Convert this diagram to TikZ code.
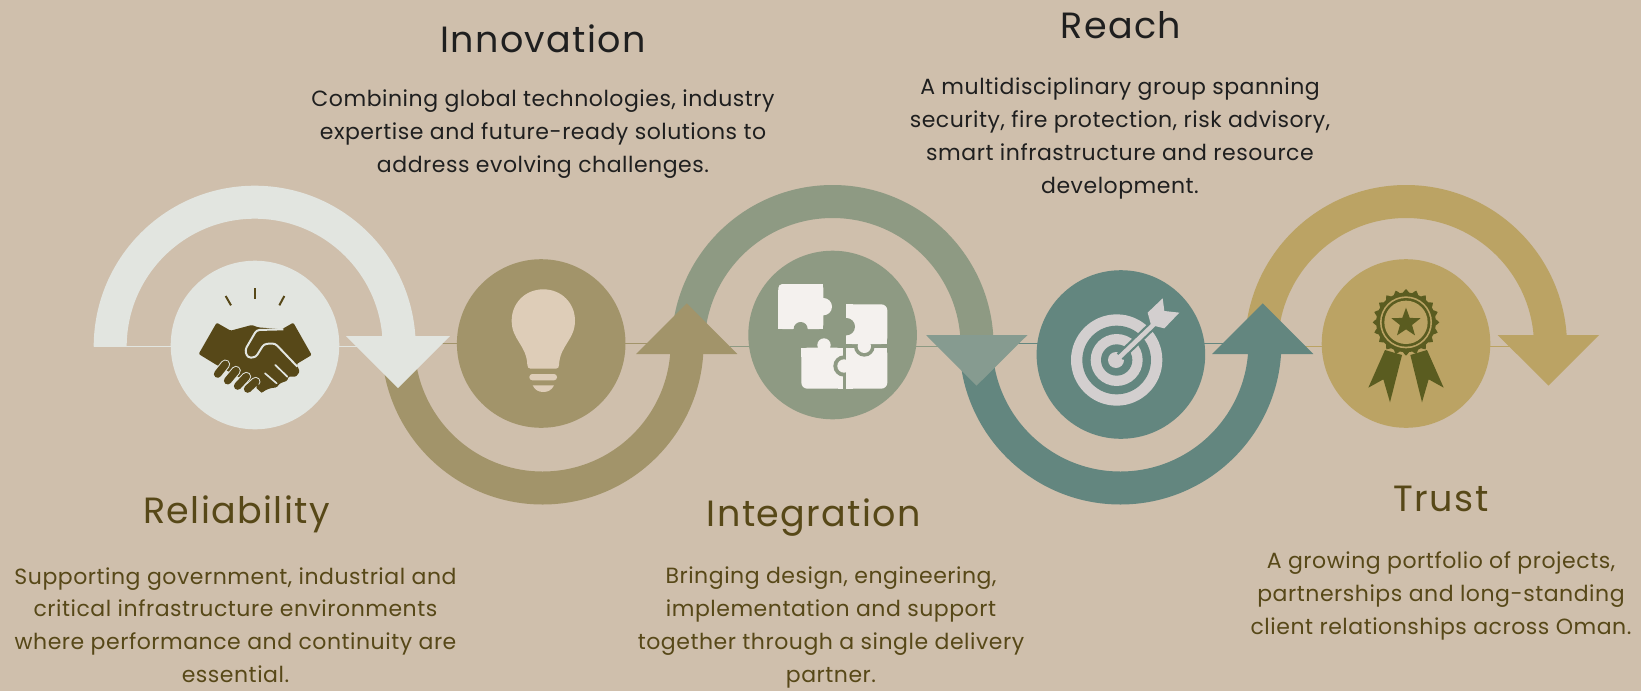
\documentclass[tikz,border=0pt]{standalone}
\usepackage{fontspec}
\setmainfont{Poppins}
\newfontfamily\titlefont[LetterSpace=3.8]{Poppins}
\newfontfamily\bodyfont[LetterSpace=2.4]{Poppins}
\usetikzlibrary{shapes.geometric}
\definecolor{bg}{HTML}{CFBFAC}
\definecolor{cone}{HTML}{E2E5E0}
\definecolor{ctwo}{HTML}{A2946A}
\definecolor{cthree}{HTML}{8E9A83}
\definecolor{cthreeb}{HTML}{869B90}
\definecolor{cfour}{HTML}{63867F}
\definecolor{cfive}{HTML}{BBA364}
\definecolor{brownink}{HTML}{574818}
\definecolor{darkink}{HTML}{1F1F1F}
\definecolor{bulbc}{HTML}{DECDB8}
\definecolor{puzc}{HTML}{F4F1EE}
\definecolor{targc}{HTML}{D3CFCF}
\definecolor{rosc}{HTML}{5A5C20}
\newcommand{\ringtop}[3]{\fill[#3] ({#1-161},{-#2}) arc[start angle=180,end angle=0,radius=161] -- ({#1+128},{-#2}) arc[start angle=0,end angle=180,radius=128] -- cycle;}
\newcommand{\ringbot}[3]{\fill[#3] ({#1-161},{-#2}) arc[start angle=180,end angle=360,radius=161] -- ({#1+128},{-#2}) arc[start angle=360,end angle=180,radius=128] -- cycle;}
\tikzset{
  disc/.style={circle,inner sep=0pt,minimum size=168.6pt,draw=none},
  titletext/.style={font=\titlefont\fontsize{36.5}{40}\selectfont,anchor=center},
  bodytext/.style={font=\bodyfont\fontsize{22}{32.8}\selectfont,align=center,anchor=center},
}
\begin{document}
\begin{tikzpicture}[x=1pt,y=1pt]
\useasboundingbox (0,-691) rectangle (1641,0);
\fill[bg] (0,-691) rectangle (1641,0);
% thin lines
\draw[cone,line width=1pt] (94,-346.7) -- (400,-346.7);
\draw[ctwo,line width=1pt] (430,-343.3) -- (650,-343.3);
\draw[cthree,line width=1pt] (730,-346.3) -- (960,-346.3);
\draw[cfour,line width=1pt] (1000,-343.3) -- (1230,-343.3);
\draw[cfive,line width=1pt] (1300,-346) -- (1520,-346);
% discs
\node[disc,fill=cone] (d1) at (255,-345) {};
\node[disc,fill=ctwo] (d2) at (541.2,-343.5) {};
\node[disc,fill=cthree] (d3) at (832.6,-335) {};
\node[disc,fill=cfour] (d4) at (1120.9,-354.5) {};
\node[disc,fill=cfive] (d5) at (1406,-343.5) {};
% rings
\ringbot{542.6}{343.5}{ctwo}
\ringtop{254.7}{346.7}{cone}
\ringtop{832.6}{346}{cthree}
\ringbot{1120.4}{343.5}{cfour}
\ringtop{1406}{346}{cfive}
% arrowheads
\fill[cone] (346,-336) -- (450,-336) -- (398,-388) -- cycle;
\fill[ctwo] (636,-354) -- (737.3,-354) -- (686.7,-303.3) -- cycle;
\fill[cthreeb] (926,-335) -- (1027.5,-335) -- (976.5,-385.7) -- cycle;
\fill[cfour] (1212,-354) -- (1313.3,-354) -- (1262.7,-303.3) -- cycle;
\fill[cfive] (1497.7,-335) -- (1599,-335) -- (1548.5,-385.7) -- cycle;
% handshake
\begin{scope}[shift={(80pt,-170pt)},x=0.33333pt,y=-0.33333pt]
\fill[brownink,rounded corners=1.2pt] (410,458) -- (452,482) -- (515,465) -- (535,472) -- (605,478) -- (640,458) -- (695,555) -- (650,582) -- (659,605) -- (648,620) -- (625,620) -- (622,632) -- (600,640) -- (590,652) -- (570,655) -- (558,660) -- (545,668) -- (528,650) -- (405,582) -- (356,552) -- cycle;
\draw[cone,line width=2pt,line join=round,rounded corners=3pt] (610,478) -- (530,480) -- (495,540) -- (503,563) -- (527,562) -- (552,522) -- (585,520) -- (652,590);
\draw[cone,line width=1.7pt,line cap=round] (586,585) -- (622,620);
\draw[cone,line width=1.7pt,line cap=round] (555,610) -- (590,640);
\foreach \a/\b/\c/\d in {503/657/527/635,473/648/499/620,443/632/468/602,413/612/436/583}{
  \draw[cone,line width=9.6pt,line cap=round] (\a,\b) -- (\c,\d);
}
\fill[brownink] (530,640) -- (558,658) -- (545,668) -- (530,655) -- cycle;
\foreach \a/\b/\c/\d in {503/657/527/635,473/648/499/620,443/632/468/602,413/612/436/583}{
  \draw[brownink,line width=7.6pt,line cap=round] (\a,\b) -- (\c,\d);
}
\draw[brownink,line width=2pt] (525,354) -- (525,387);
\draw[brownink,line width=2pt] (437,378) -- (453,406);
\draw[brownink,line width=2pt] (613,378) -- (598,406);
\end{scope}
% bulb and puzzle
\begin{scope}[shift={(420pt,-230pt)},x=0.33333pt,y=-0.33333pt]
\fill[bulbc] (370,178) .. controls (315,178) and (275,220) .. (275,272) .. controls (275,330) and (320,345) .. (322,405) .. controls (322,412) and (326,416) .. (332,416) -- (408,416) .. controls (414,416) and (417,412) .. (417,405) .. controls (420,345) and (465,330) .. (465,272) .. controls (465,220) and (425,178) .. (370,178) -- cycle;
\fill[bulbc,rounded corners=3pt] (328,432) rectangle (411,451);
\fill[bulbc] (338,466) -- (402,466) .. controls (395,480) and (385,486) .. (370,486) .. controls (355,486) and (345,480) .. (338,466) -- cycle;
% piece 1
\fill[puzc,rounded corners=4pt] (1075,162) -- (1210,162) -- (1210,297) -- (1075,297) -- cycle;
\fill[puzc] (1075,180) rectangle (1100,297);
\fill[puzc] (1190,162) rectangle (1210,297);
\fill[puzc] (1210,230) circle[radius=26];
\fill[cthree] (1142,297) circle[radius=21];
\fill[cthree] (1120,297) rectangle (1165,303);
% piece 3
\fill[puzc,rounded corners=6pt] (1144,353) -- (1268,353) -- (1268,476) -- (1144,476) -- cycle;
\fill[puzc] (1144,353) rectangle (1165,380);
\fill[puzc] (1255,353) rectangle (1268,476);
\fill[puzc] (1212,345) circle[radius=20];
\fill[cthree] (1272,408) circle[radius=32];
% piece 4
\fill[puzc,rounded corners=6pt] (1279,353) -- (1402,353) -- (1402,476) -- (1279,476) -- cycle;
\fill[puzc] (1279,353) rectangle (1300,476);
\fill[puzc] (1380,353) rectangle (1402,380);
\fill[cthree] (1268,353) rectangle (1279,476);
\fill[puzc] (1272,408) circle[radius=20];
\fill[puzc] (1272,392) rectangle (1285,424);
\fill[cthree] (1333,349) circle[radius=31];
\fill[cthree] (1279,342) rectangle (1402,353);
% piece 2
\fill[puzc,rounded corners=6pt] (1278,223) -- (1402,223) -- (1402,342) -- (1278,342) -- cycle;
\fill[puzc] (1278,223) rectangle (1300,342);
\fill[puzc] (1300,320) rectangle (1402,342);
\fill[puzc] (1333,349) circle[radius=20];
\fill[cthree] (1279,290) circle[radius=26];
\end{scope}
% target
\begin{scope}[shift={(970pt,-240pt)},x=0.33333pt,y=-0.33333pt]
\fill[targc] (440,360) circle[radius=137];
\fill[cfour] (440,360) circle[radius=103];
\fill[targc] (440,360) circle[radius=78];
\fill[cfour] (440,360) circle[radius=47];
\fill[targc] (438,360) circle[radius=24];
\draw[cfour,line width=9pt] (450,350) -- (565,240);
\draw[targc,line width=4.6pt] (448,352) -- (560,245);
\fill[targc] (533,218) -- (578,175) -- (583,213) -- (628,218) -- (583,265) -- (543,255) -- cycle;
\end{scope}
% rosette
\begin{scope}[shift={(1250pt,-240pt)},x=0.33333pt,y=-0.33333pt]
\fill[rosc] (405,330) -- (355,443) -- (400,418) -- (420,487) -- (456,345) -- cycle;
\fill[rosc] (531,330) -- (581,443) -- (536,418) -- (516,487) -- (481,345) -- cycle;
\fill[rosc] plot[smooth cycle,samples at={0,6,...,354},variable=\t] ({468+(93+7*cos(20*\t))*sin(\t)},{247-(93+7*cos(20*\t))*cos(\t)});
\fill[cfive] (468,247) circle[radius=78];
\fill[rosc] (468,247) circle[radius=73];
\fill[cfive] (468,247) circle[radius=65];
\fill[rosc] plot[samples at={0,1,...,9},variable=\i] ({468+(mod(\i,2)==0?46:19)*sin(36*\i)},{249-(mod(\i,2)==0?46:19)*cos(36*\i)}) -- cycle;
\end{scope}
% text
\node[titletext,text=darkink] (t1) at (543,-39) {Innovation};
\node[bodytext,text=darkink] (b1) at (543,-134) {Combining global technologies, industry\\expertise and future-ready solutions to\\address evolving challenges.};
\node[titletext,text=darkink] (t2) at (1121,-25) {Reach};
\node[bodytext,text=darkink] (b2) at (1120,-138.5) {A multidisciplinary group spanning\\security, fire protection, risk advisory,\\smart infrastructure and resource\\development.};
\node[titletext,text=brownink] (t3) at (236.5,-514) {Reliability};
\node[bodytext,text=brownink] (b3) at (235.5,-625) {Supporting government, industrial and\\critical infrastructure environments\\where performance and continuity are\\essential.};
\node[titletext,text=brownink] (t4) at (814,-518) {Integration};
\node[bodytext,text=brownink] (b4) at (831,-627.5) {Bringing design, engineering,\\implementation and support\\together through a single delivery\\partner.};
\node[titletext,text=brownink] (t5) at (1441,-499) {Trust};
\node[bodytext,text=brownink] (b5) at (1441,-596) {A growing portfolio of projects,\\partnerships and long-standing\\client relationships across Oman.};
\end{tikzpicture}
\end{document}
